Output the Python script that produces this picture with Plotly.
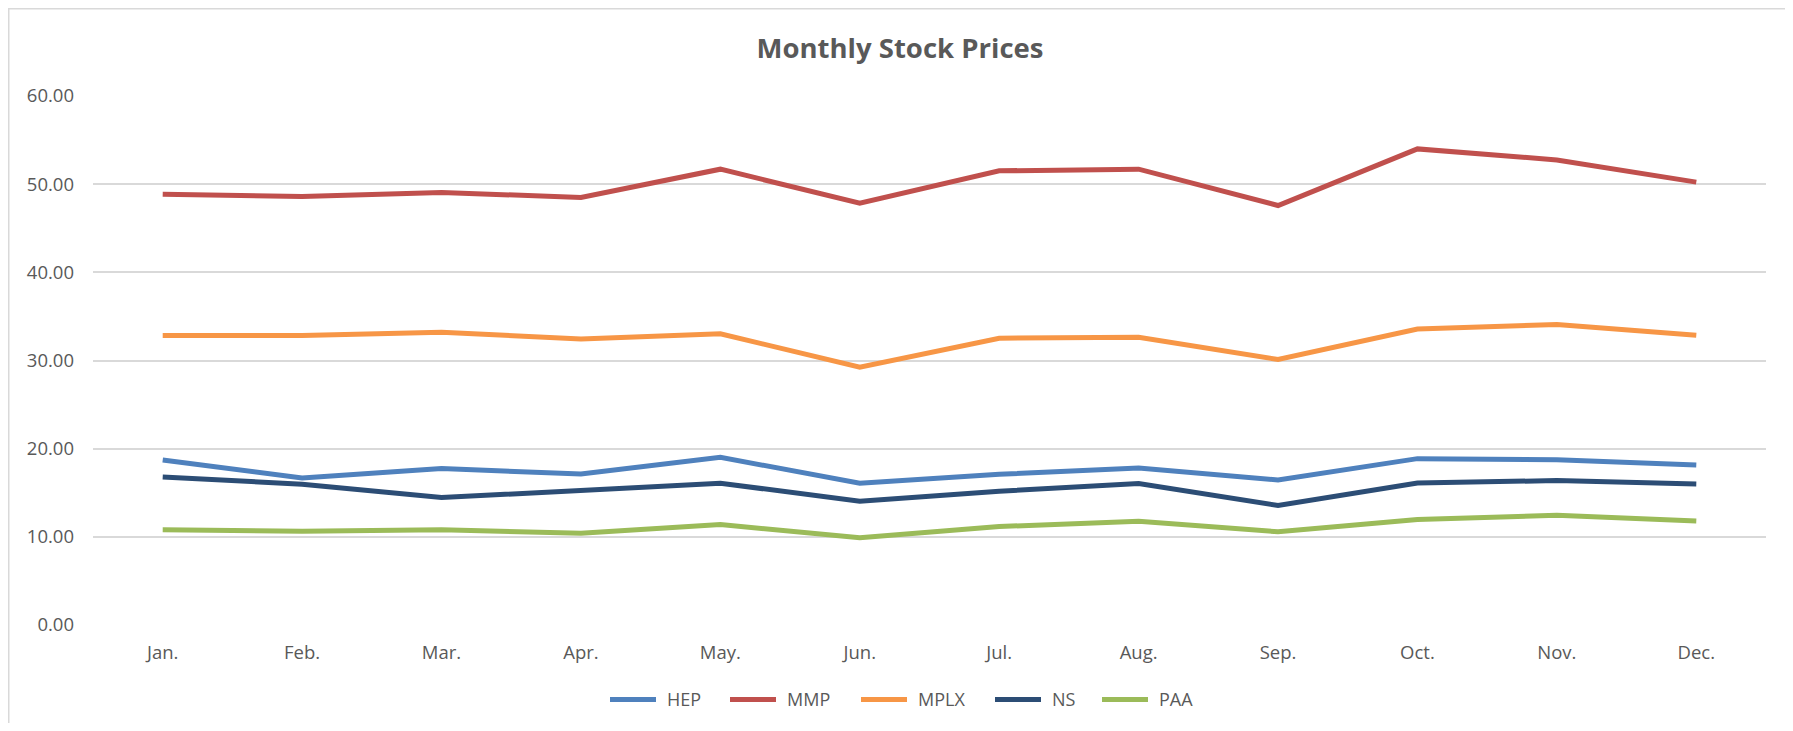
import plotly.graph_objects as go

months = ["Jan.", "Feb.", "Mar.", "Apr.", "May.", "Jun.", "Jul.", "Aug.", "Sep.", "Oct.", "Nov.", "Dec."]

hep = [18.72, 16.68, 17.74, 17.13, 19.02, 16.08, 17.09, 17.81, 16.45, 18.87, 18.75, 18.15]
mmp = [48.87, 48.60, 49.06, 48.49, 51.70, 47.85, 51.51, 51.70, 47.58, 54.00, 52.75, 50.23]
mplx = [32.83, 32.83, 33.20, 32.45, 33.02, 29.25, 32.53, 32.64, 30.11, 33.58, 34.08, 32.87]
ns = [16.79, 15.96, 14.45, 15.32, 16.08, 14.04, 15.17, 16.04, 13.55, 16.11, 16.38, 16.00]
paa = [10.79, 10.64, 10.79, 10.42, 11.40, 9.89, 11.17, 11.77, 10.57, 11.96, 12.45, 11.81]

series_names = ["HEP", "MMP", "MPLX", "NS", "PAA"]
series_values = [hep, mmp, mplx, ns, paa]
series_colors = ["#4F81BD", "#C0504D", "#F79646", "#2C4D75", "#9BBB59"]

FONT = "Open Sans"
GREY = "#595959"

# figure geometry (page has an 8px body margin)
W, H = 1785, 715
L, R, T, B = 85, 27, 88, 97.5
PW, PH = W - L - R, H - T - B


def px_x(x):
    return (x - L) / PW


def px_y(y):
    return (H - B - y) / PH


fig = go.Figure()
for name, vals, color in zip(series_names, series_values, series_colors):
    fig.add_trace(go.Scatter(
        x=months, y=vals, name=name, mode="lines",
        line=dict(color=color, width=5),
        showlegend=False,
    ))

# custom legend (Excel style: long line swatch + label)
legend_starts = [600, 720, 851, 985, 1092]
legend_y = 692
shapes = [dict(
    type="rect", xref="paper", yref="paper",
    x0=px_x(0.75), x1=px_x(1782.5),
    y0=px_y(H + 10), y1=px_y(0.75),
    line=dict(color="#D9D9D9", width=1.5), fillcolor="rgba(0,0,0,0)",
    layer="below",
)]
annotations = []
for name, color, x0 in zip(series_names, series_colors, legend_starts):
    shapes.append(dict(
        type="line", xref="paper", yref="paper",
        x0=px_x(x0 + 2), x1=px_x(x0 + 48),
        y0=px_y(legend_y), y1=px_y(legend_y),
        line=dict(color=color, width=5),
    ))
    annotations.append(dict(
        text=name, xref="paper", yref="paper",
        x=px_x(x0 + 57), y=px_y(legend_y),
        xanchor="left", yanchor="middle", showarrow=False,
        font=dict(family=FONT, size=18, color=GREY),
    ))

fig.update_layout(
    width=W, height=H,
    margin=dict(l=L, r=R, t=T, b=B, pad=0),
    paper_bgcolor="white", plot_bgcolor="white",
    font=dict(family=FONT, color=GREY, size=18),
    title=dict(
        text="<b>Monthly Stock Prices</b>",
        font=dict(family=FONT, size=27.5, color=GREY),
        x=892 / W, xanchor="center", xref="container",
        y=1 - 40 / H, yanchor="middle", yref="container",
    ),
    xaxis=dict(
        type="category", range=[-0.5, 11.5],
        showgrid=False, zeroline=False, showline=False,
        ticks="", tickfont=dict(size=18.5, color=GREY),
        ticklabelstandoff=14,
    ),
    yaxis=dict(
        range=[0, 60], tickvals=[0, 10, 20, 30, 40, 50, 60],
        tickformat=".2f",
        showgrid=True, gridcolor="#D9D9D9", gridwidth=1.8,
        zeroline=False, showline=False, ticks="",
        tickfont=dict(size=18.5, color=GREY),
        ticklabelstandoff=18,
    ),
    showlegend=False,
    shapes=shapes,
    annotations=annotations,
)

fig.write_html("out.html")
